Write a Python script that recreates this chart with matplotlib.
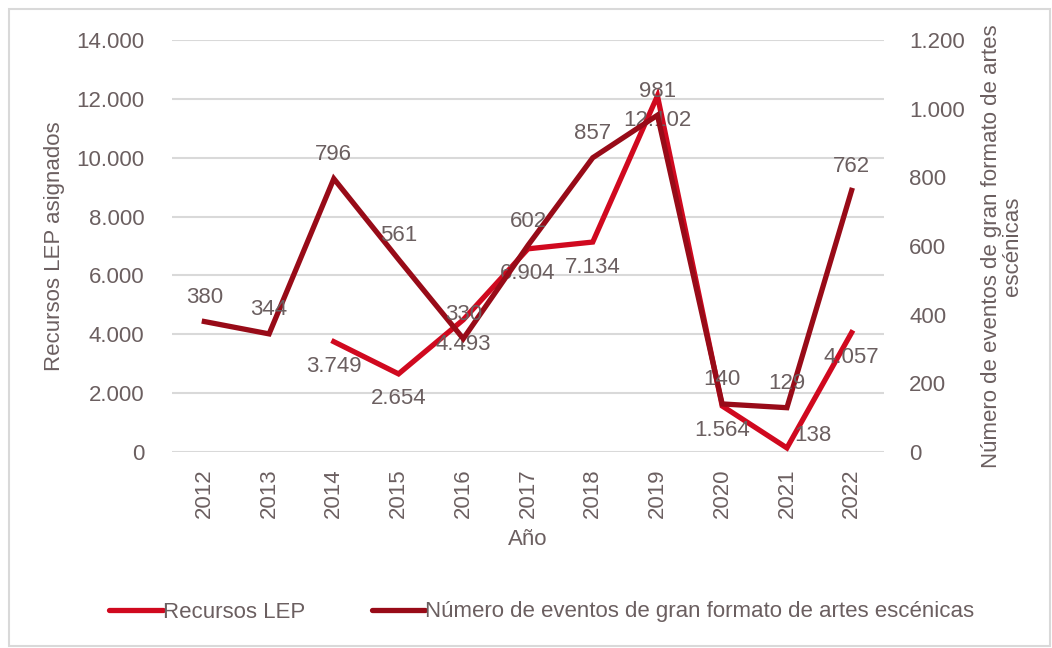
import numpy as np
import matplotlib
matplotlib.use("Agg")
import matplotlib.pyplot as plt
from matplotlib.patches import Rectangle

plt.rcParams['font.family'] = ['Liberation Sans Narrow', 'Liberation Sans', 'DejaVu Sans']

# datos
anios = ['2012', '2013', '2014', '2015', '2016', '2017', '2018', '2019', '2020', '2021', '2022']
recursos_lep = [None, None, 3749, 2654, 4493, 6904, 7134, 12102, 1564, 138, 4057]
eventos = [380, 344, 796, 561, 330, 602, 857, 981, 140, 129, 762]

c_lep = '#d0091f'
c_ev = '#980b18'
c_txt = '#6b5f60'
fs = 16


def fmt(v):
    return f"{v:,.0f}".replace(',', '.')


fig = plt.figure(figsize=(10.52, 6.48), dpi=100)
fig.patches.append(Rectangle((9 / 1052, 2 / 648), 1041 / 1052, 637 / 648, transform=fig.transFigure,
                             fill=False, edgecolor='#d9d9d9', lw=1.5))

ax = fig.add_axes([172 / 1052, 1 - 452 / 648, 712 / 1052, 412 / 648])
ax2 = ax.twinx()

x = np.arange(len(anios))
xl = np.array([i for i, v in enumerate(recursos_lep) if v is not None])
yl = np.array([v for v in recursos_lep if v is not None])

ax.plot(xl, yl, color=c_lep, lw=3.8, solid_joinstyle='miter', zorder=3)
ax2.plot(x, eventos, color=c_ev, lw=3.8, solid_joinstyle='miter', zorder=3)

ax.set_ylim(0, 14000)
ax2.set_ylim(0, 1200)
ax.set_xlim(-0.5, len(anios) - 0.5)
ax.set_yticks(np.arange(0, 14001, 2000))
ax2.set_yticks(np.arange(0, 1201, 200))
ax.set_yticklabels([fmt(v) for v in np.arange(0, 14001, 2000)])
ax2.set_yticklabels([fmt(v) for v in np.arange(0, 1201, 200)])
ax.set_xticks(x)
ax.set_xticklabels(anios, rotation=90)

ax.grid(axis='y', color='#d9d9d9', lw=1.5)
ax.set_axisbelow(True)
for a in (ax, ax2):
    for s in a.spines.values():
        s.set_visible(False)
    a.tick_params(length=0, labelsize=fs, colors=c_txt)
ax.tick_params(axis='y', pad=20)
ax2.tick_params(axis='y', pad=18)
ax.tick_params(axis='x', pad=12)

# etiquetas de datos
for xi, v in zip(xl, yl):
    off = (26, 12) if v < 500 else (0, -25)
    ax.annotate(fmt(v), (xi, v), xytext=off, textcoords='offset pixels',
                ha='center', va='center', fontsize=fs, color=c_txt, zorder=5)
for xi, v in zip(x, eventos):
    ax2.annotate(fmt(v), (xi, v), xytext=(0, 24), textcoords='offset pixels',
                 ha='center', va='center', fontsize=fs, color=c_txt, zorder=5)

ax.set_xlabel('Año', fontsize=fs, color=c_txt, labelpad=8)
ax.set_ylabel('Recursos LEP asignados', fontsize=fs, color=c_txt, labelpad=8)
ax2.set_ylabel('Número de eventos de gran formato de artes\nescénicas', fontsize=fs,
               color=c_txt, labelpad=12, linespacing=0.95)

h1, = ax.plot([], [], color=c_lep, lw=3.8, solid_capstyle='round')
h2, = ax.plot([], [], color=c_ev, lw=3.8, solid_capstyle='round')
fig.legend([h1, h2], ['Recursos LEP', 'Número de eventos de gran formato de artes escénicas'],
           loc='center', bbox_to_anchor=(0.515, 1 - 612 / 648), ncol=2, frameon=False,
           fontsize=fs, labelcolor=c_txt, handlelength=2.4, handletextpad=0.0,
           columnspacing=3.0)

fig.savefig('out.png', dpi=100)
